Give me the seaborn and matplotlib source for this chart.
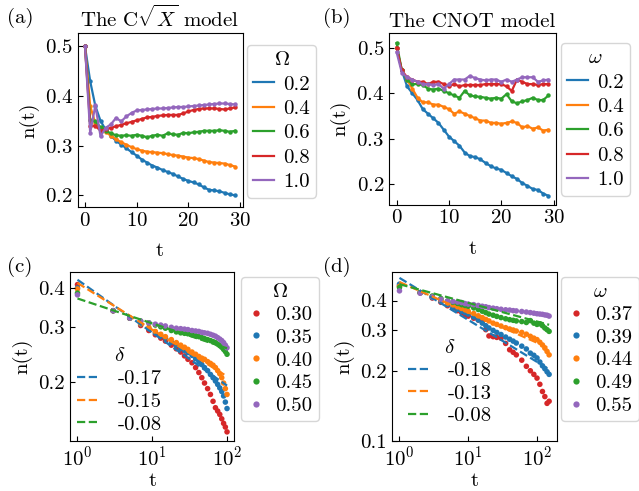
import numpy as np
import pandas as pd
import matplotlib
matplotlib.use("Agg")
import matplotlib.pyplot as plt
import seaborn as sns
from matplotlib.lines import Line2D
from matplotlib.ticker import FixedLocator, NullLocator, FixedFormatter

# ---------------- data ----------------
a_t = list(range(30))
a_labels = ["0.2", "0.4", "0.6", "0.8", "1.0"]
a_02 = [0.500,0.430,0.380,0.350,0.332,0.320,0.310,0.302,0.295,0.287,0.280,0.272,0.266,0.260,0.256,0.251,0.247,0.243,0.238,0.233,0.229,0.226,0.222,0.216,0.211,0.210,0.208,0.205,0.202,0.200]
a_04 = [0.500,0.380,0.345,0.336,0.328,0.320,0.313,0.307,0.302,0.297,0.293,0.290,0.288,0.287,0.286,0.285,0.283,0.281,0.280,0.278,0.276,0.275,0.273,0.270,0.267,0.266,0.265,0.264,0.261,0.258]
a_06 = [0.500,0.352,0.349,0.337,0.330,0.325,0.321,0.320,0.321,0.320,0.322,0.320,0.317,0.320,0.322,0.320,0.325,0.323,0.322,0.326,0.325,0.327,0.328,0.330,0.330,0.330,0.331,0.330,0.328,0.330]
a_08 = [0.500,0.340,0.340,0.330,0.333,0.336,0.339,0.342,0.345,0.348,0.351,0.354,0.357,0.358,0.360,0.361,0.362,0.362,0.362,0.365,0.369,0.372,0.374,0.375,0.375,0.375,0.374,0.373,0.375,0.377]
a_10 = [0.500,0.326,0.381,0.319,0.336,0.343,0.356,0.349,0.359,0.366,0.371,0.372,0.373,0.374,0.375,0.375,0.376,0.377,0.378,0.378,0.379,0.380,0.381,0.382,0.383,0.384,0.385,0.385,0.384,0.383]

b_t = list(range(30))
b_labels = ["0.2", "0.4", "0.6", "0.8", "1.0"]
b_02 = [0.500,0.450,0.415,0.400,0.385,0.365,0.355,0.345,0.335,0.320,0.305,0.295,0.285,0.270,0.262,0.260,0.255,0.247,0.240,0.235,0.232,0.225,0.218,0.212,0.203,0.197,0.190,0.188,0.180,0.175]
b_04 = [0.500,0.450,0.430,0.410,0.390,0.380,0.380,0.375,0.375,0.370,0.365,0.355,0.360,0.355,0.350,0.345,0.340,0.340,0.335,0.335,0.333,0.335,0.338,0.335,0.325,0.328,0.322,0.325,0.318,0.320]
b_06 = [0.510,0.450,0.430,0.420,0.420,0.418,0.410,0.408,0.410,0.405,0.400,0.395,0.390,0.405,0.395,0.393,0.392,0.390,0.388,0.390,0.388,0.398,0.382,0.378,0.382,0.385,0.390,0.385,0.385,0.395]
b_08 = [0.500,0.450,0.435,0.430,0.425,0.425,0.420,0.425,0.425,0.420,0.415,0.420,0.415,0.418,0.418,0.418,0.418,0.420,0.420,0.420,0.420,0.415,0.405,0.430,0.425,0.420,0.420,0.418,0.420,0.420]
b_10 = [0.490,0.445,0.435,0.430,0.425,0.420,0.420,0.418,0.420,0.410,0.420,0.430,0.430,0.430,0.438,0.433,0.430,0.428,0.430,0.430,0.425,0.430,0.425,0.430,0.435,0.435,0.435,0.425,0.428,0.430]

c_t = [1,3,5,7,9,11,13,15,18,21,24,27,30,34,38,42,46,50,55,60,65,70,75,80,85,90,95,100]
c_labels = ["0.30", "0.35", "0.40", "0.45", "0.50"]
c_030 = [0.410,0.338,0.320,0.303,0.292,0.283,0.276,0.270,0.262,0.255,0.249,0.242,0.236,0.230,0.222,0.214,0.206,0.198,0.190,0.182,0.173,0.165,0.161,0.157,0.152,0.147,0.143,0.138]
c_035 = [0.400,0.338,0.320,0.306,0.296,0.287,0.281,0.276,0.268,0.262,0.256,0.252,0.248,0.243,0.237,0.232,0.227,0.222,0.217,0.211,0.206,0.201,0.196,0.191,0.186,0.180,0.172,0.164]
c_040 = [0.397,0.338,0.320,0.307,0.299,0.290,0.284,0.279,0.273,0.267,0.262,0.258,0.254,0.249,0.245,0.241,0.238,0.236,0.232,0.229,0.226,0.222,0.217,0.212,0.206,0.198,0.190,0.182]
c_045 = [0.385,0.338,0.320,0.313,0.309,0.304,0.300,0.297,0.292,0.289,0.287,0.286,0.285,0.283,0.281,0.279,0.277,0.275,0.273,0.271,0.269,0.267,0.264,0.261,0.258,0.254,0.250,0.245]
c_050 = [0.380,0.338,0.320,0.313,0.309,0.306,0.304,0.302,0.299,0.297,0.296,0.295,0.294,0.292,0.291,0.290,0.288,0.287,0.286,0.284,0.282,0.280,0.277,0.274,0.271,0.267,0.262,0.257]
c_delta = [-0.17, -0.15, -0.08]
c_amp = [0.425, 0.415, 0.370]
c_fit_t = [1, 100]

d_t = [1,2,3,4,5,6,7,8,9,10,12,14,16,18,20,23,26,30,35,40,45,50,60,70,80,90,100,110,120,130,140,150]
d_labels = ["0.37", "0.39", "0.44", "0.49", "0.55"]
d_037 = [0.462,0.432,0.410,0.393,0.380,0.370,0.362,0.355,0.348,0.343,0.336,0.330,0.326,0.300,0.282,0.280,0.278,0.276,0.262,0.246,0.240,0.234,0.222,0.209,0.200,0.193,0.186,0.175,0.163,0.155,0.145,0.148]
d_039 = [0.470,0.432,0.412,0.396,0.384,0.375,0.367,0.360,0.355,0.350,0.340,0.330,0.320,0.312,0.305,0.298,0.292,0.286,0.279,0.273,0.268,0.263,0.255,0.248,0.238,0.233,0.227,0.218,0.210,0.204,0.198,0.193]
d_044 = [0.460,0.432,0.416,0.402,0.390,0.383,0.376,0.370,0.365,0.360,0.352,0.344,0.338,0.332,0.327,0.320,0.316,0.311,0.306,0.302,0.299,0.296,0.292,0.287,0.281,0.276,0.272,0.265,0.258,0.250,0.242,0.234]
d_049 = [0.455,0.432,0.418,0.408,0.398,0.393,0.388,0.384,0.381,0.378,0.372,0.366,0.360,0.355,0.350,0.346,0.342,0.338,0.334,0.331,0.329,0.327,0.325,0.322,0.328,0.320,0.316,0.318,0.312,0.305,0.300,0.295]
d_055 = [0.440,0.430,0.415,0.405,0.398,0.396,0.394,0.392,0.388,0.386,0.384,0.381,0.378,0.376,0.373,0.371,0.369,0.367,0.365,0.364,0.362,0.361,0.359,0.357,0.355,0.353,0.351,0.350,0.349,0.347,0.346,0.343]
d_delta = [-0.18, -0.13, -0.08]
d_amp = [0.50, 0.48, 0.47]
d_fit_t = [1, 150]

# ---------------- style ----------------
FS = 15
plt.rcParams.update({
    "font.family": "serif",
    "font.serif": ["cmr10"],
    "mathtext.fontset": "cm",
    "axes.formatter.use_mathtext": True,
    "font.size": FS,
    "xtick.direction": "in",
    "ytick.direction": "in",
    "axes.unicode_minus": False,
})

tab = sns.color_palette("tab10")
line_cols = [tab[0], tab[1], tab[2], tab[3], tab[4]]
scat_cols = [tab[3], tab[0], tab[1], tab[2], tab[4]]
fit_cols = [tab[0], tab[1], tab[2]]

W, H = 639, 491
fig = plt.figure(figsize=(W / 100, H / 100), dpi=100)


def px_axes(l, r, t, b):
    return fig.add_axes([l / W, 1 - b / H, (r - l) / W, (b - t) / H])


ax_a = px_axes(77.5, 242.5, 33, 207)
ax_b = px_axes(389, 556, 33, 204.5)
ax_c = px_axes(70, 234.5, 272, 441)
ax_d = px_axes(392, 556.6, 272, 441)

LEG_KW = dict(borderaxespad=0, borderpad=0.3, handlelength=1.0,
              handletextpad=0.45, labelspacing=0.28, fontsize=FS,
              title_fontsize=FS, bbox_transform=fig.transFigure,
              loc="upper left")


def long_df(t, series, labels, name):
    rows = []
    for lab, ys in zip(labels, series):
        for tt, y in zip(t, ys):
            rows.append({"t": tt, "n": y, name: lab})
    return pd.DataFrame(rows)


def line_panel(ax, t, series, labels, title, legtitle, leg_xy):
    df = long_df(t, series, labels, "g")
    sns.lineplot(data=df, x="t", y="n", hue="g", hue_order=labels,
                 palette=line_cols, marker="o", markersize=3.2,
                 markeredgewidth=0, linewidth=1.6, legend=False,
                 errorbar=None, ax=ax)
    ax.set_title(title, fontsize=FS, pad=4)
    ax.set_xlabel("t", labelpad=9)
    ax.set_ylabel("n(t)")
    ax.set_xticks([0, 10, 20, 30])
    handles = [Line2D([], [], color=c, lw=1.6) for c in line_cols]
    ax.legend(handles, labels, title=legtitle,
              bbox_to_anchor=(leg_xy[0] / W, 1 - leg_xy[1] / H), **LEG_KW)


line_panel(ax_a, a_t, [a_02, a_04, a_06, a_08, a_10], a_labels,
           r"The C$\sqrt{X}$ model", r"$\Omega$", (247, 45))
ax_a.set_yticks([0.2, 0.3, 0.4, 0.5])
ax_a.set_ylim(0.1765, 0.527)
ax_a.set_xlim(-1.45, 30.45)
line_panel(ax_b, b_t, [b_02, b_04, b_06, b_08, b_10], b_labels,
           "The CNOT model", r"$\omega$", (561, 43))
ax_b.set_yticks([0.2, 0.3, 0.4, 0.5])
ax_b.set_ylim(0.156, 0.532)
ax_b.set_xlim(-1.45, 30.45)


def scat_panel(ax, t, series, labels, legtitle, leg_xy, fit_t, amps, deltas,
               dpad):
    df = long_df(t, series, labels, "g")
    sns.scatterplot(data=df, x="t", y="n", hue="g", hue_order=labels,
                    palette=scat_cols, s=16, linewidth=0, legend=False, ax=ax)
    ft = np.array(fit_t, dtype=float)
    fit_handles = []
    for A, dl, c in zip(amps, deltas, fit_cols):
        sns.lineplot(x=ft, y=A * ft ** dl, color=c, linestyle="--",
                     linewidth=1.6, ax=ax, legend=False, errorbar=None)
        fit_handles.append(Line2D([], [], color=c, lw=1.6, ls="--"))
    ax.set_xscale("log")
    ax.set_yscale("log")
    ax.set_xlabel("t", labelpad=1)
    ax.set_ylabel("n(t)")
    ax.xaxis.set_minor_locator(NullLocator())
    ax.yaxis.set_minor_locator(NullLocator())
    handles = [Line2D([], [], color=c, marker="o", ls="", markersize=4.5,
                      markeredgewidth=0) for c in scat_cols]
    kw = dict(LEG_KW)
    kw["handlelength"] = 0.85
    kw["handletextpad"] = 0.5
    kw["labelspacing"] = 0.2
    leg1 = ax.legend(handles, labels, title=legtitle,
                     bbox_to_anchor=(leg_xy[0] / W, 1 - leg_xy[1] / H), **kw)
    ax.add_artist(leg1)
    ax.legend(fit_handles, ["%.2f" % d for d in deltas], title=r"$\delta$",
              loc="lower left", frameon=False, handlelength=1.05,
              handletextpad=0.9, labelspacing=0.2, borderpad=0.15,
              borderaxespad=dpad, fontsize=FS, title_fontsize=FS)


scat_panel(ax_c, c_t, [c_030, c_035, c_040, c_045, c_050], c_labels,
           r"$\Omega$", (241, 277), c_fit_t, c_amp, c_delta, 0.2)
ax_c.set_ylim(0.129, 0.45)
ax_c.yaxis.set_major_locator(FixedLocator([0.2, 0.3, 0.4]))
ax_c.yaxis.set_major_formatter(FixedFormatter(["0.2", "0.3", "0.4"]))
ax_c.set_xticks([1, 10, 100])

scat_panel(ax_d, d_t, [d_037, d_039, d_044, d_049, d_055], d_labels,
           r"$\omega$", (561, 277), d_fit_t, d_amp, d_delta, 0.6)
ax_d.set_ylim(0.1, 0.53)
ax_d.yaxis.set_major_locator(FixedLocator([0.1, 0.2, 0.3, 0.4]))
ax_d.yaxis.set_major_formatter(FixedFormatter(["0.1", "0.2", "0.3", "0.4"]))
ax_d.set_xticks([1, 10, 100])

for lab, x, y in [("(a)", 7, 8), ("(b)", 323, 8), ("(c)", 7, 257), ("(d)", 323, 257)]:
    fig.text(x / W, 1 - y / H, lab, ha="left", va="top", fontsize=FS)

fig.savefig("out.png", dpi=100)
